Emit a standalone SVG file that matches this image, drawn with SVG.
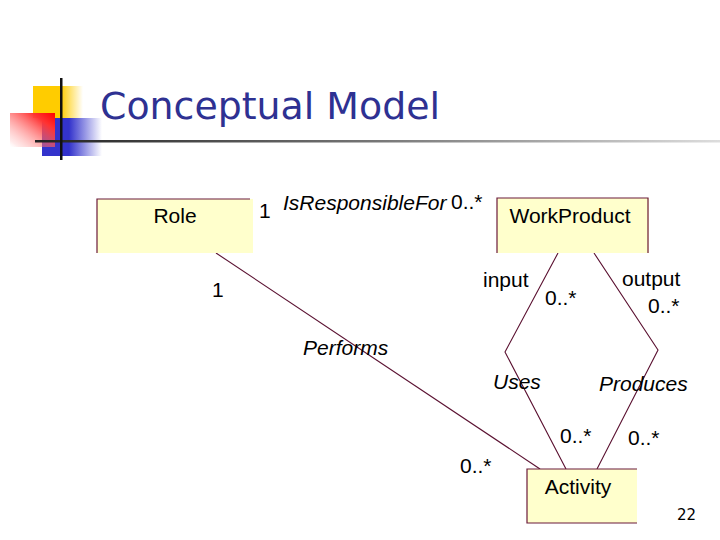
<svg xmlns="http://www.w3.org/2000/svg" width="720" height="540" viewBox="0 0 720 540">
<defs>
<linearGradient id="gy" x1="0" y1="0" x2="1" y2="0"><stop offset="0" stop-color="#ffcc00"/><stop offset="0.55" stop-color="#ffcc00"/><stop offset="1" stop-color="#ffcc00" stop-opacity="0"/></linearGradient>
<linearGradient id="gb" x1="0" y1="0" x2="1" y2="0"><stop offset="0" stop-color="#3333cc"/><stop offset="0.45" stop-color="#3333cc"/><stop offset="1" stop-color="#3333cc" stop-opacity="0"/></linearGradient>
<linearGradient id="gr" x1="1" y1="0" x2="0" y2="1"><stop offset="0" stop-color="#ff0000"/><stop offset="0.25" stop-color="#ff3333"/><stop offset="0.9" stop-color="#ff9999" stop-opacity="0.2"/><stop offset="1" stop-color="#ffcccc" stop-opacity="0"/></linearGradient>
<linearGradient id="gl" x1="0" y1="0" x2="1" y2="0"><stop offset="0" stop-color="#222"/><stop offset="0.5" stop-color="#777"/><stop offset="1" stop-color="#ddd"/></linearGradient>
</defs>
<style>
.t{font-family:"Liberation Sans",Arial,sans-serif;font-size:21px;fill:#000}
.i{font-style:italic}
.box{fill:#ffffcc}
.bd{stroke:#6b1a3a;stroke-width:1.2;fill:none}
.ln{stroke:#5a1030;stroke-width:1.1;fill:none}
</style>
<rect width="720" height="540" fill="#fff"/>
<g id="logo">
<rect x="33" y="86" width="50" height="32" fill="url(#gy)"/>
<rect x="42" y="118" width="60" height="38" fill="url(#gb)"/>
<rect x="10" y="113" width="45" height="34" fill="url(#gr)"/>
<rect x="35" y="140" width="685" height="2.5" fill="url(#gl)"/>
<rect x="60" y="78" width="2.5" height="82" fill="#111"/>
</g>
<text id="title" x="100" y="119" font-family="'DejaVu Sans',Tahoma,sans-serif" font-size="38" fill="#2e3192" textLength="340" lengthAdjust="spacingAndGlyphs">Conceptual Model</text>
<g id="connectors">
<line class="ln" x1="216" y1="253" x2="540" y2="469"/>
<polyline class="ln" points="558,253 505,352 566,469"/>
<polyline class="ln" points="594,253 658,350 597,469"/>
</g>
<g id="role">
<rect class="box" x="97" y="199" width="156" height="54"/>
<polyline class="bd" points="97,253 97,199 250,199"/>
<text class="t" x="175" y="223" text-anchor="middle">Role</text>
</g>
<g id="workproduct">
<rect class="box" x="497" y="198" width="152" height="55"/>
<polyline class="bd" points="497,253 497,198 648,198 648,253"/>
<text class="t" x="570" y="223" text-anchor="middle">WorkProduct</text>
</g>
<g id="activity">
<rect class="box" x="527" y="469" width="110" height="54"/>
<polyline class="bd" points="637,469 527,469 527,523 637,523"/>
<text class="t" x="578" y="494" text-anchor="middle">Activity</text>
</g>
<g id="labels">
<text class="t" x="259" y="218">1</text>
<text class="t i" x="283" y="210">IsResponsibleFor</text>
<text class="t" x="451" y="209">0..*</text>
<text class="t" x="212" y="297">1</text>
<text class="t" x="483" y="287">input</text>
<text class="t" x="545" y="305">0..*</text>
<text class="t" x="622" y="286">output</text>
<text class="t" x="648" y="313">0..*</text>
<text class="t i" x="303" y="355">Performs</text>
<text class="t i" x="493" y="389">Uses</text>
<text class="t i" x="599" y="391">Produces</text>
<text class="t" x="560" y="443">0..*</text>
<text class="t" x="628" y="445">0..*</text>
<text class="t" x="460" y="473">0..*</text>
<text x="677" y="520" font-family="'DejaVu Sans',Tahoma,sans-serif" font-size="15" fill="#000">22</text>
</g>
</svg>
